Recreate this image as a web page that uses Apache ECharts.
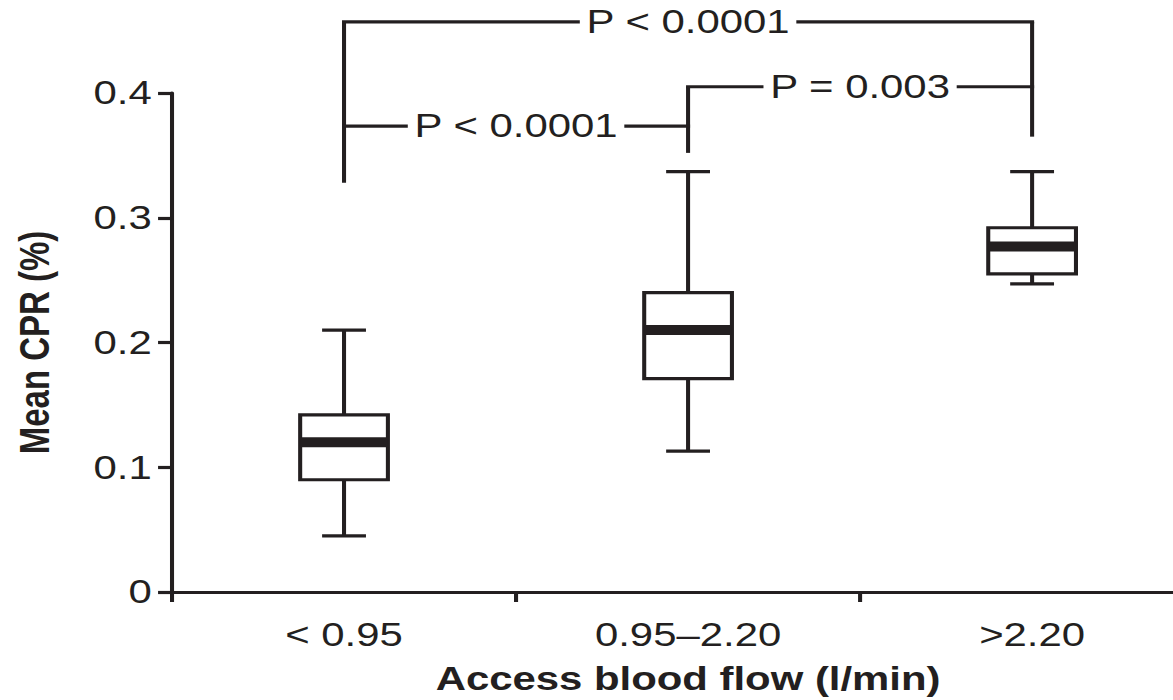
<!DOCTYPE html>
<html>
<head>
<meta charset="utf-8">
<script src="https://cdn.jsdelivr.net/npm/echarts@6/dist/echarts.min.js"></script>
<style>
  html, body { margin: 0; padding: 0; background: #fff; overflow: hidden; }
  #wrap { width: 1173px; height: 700px; overflow: hidden; position: relative; }
  /* the reference figure is horizontally stretched; reproduce that stretch */
  #chart { width: 952px; height: 700px; transform: scaleX(1.2695); transform-origin: 0 0; }
</style>
</head>
<body>
<div id="wrap"><div id="chart"></div></div>
<script>
// ---- data ----
const categories   = ['< 0.95', '0.95–2.20', '>2.20'];
const whiskerLow   = [0.045, 0.113, 0.247];
const quartile1    = [0.090, 0.171, 0.255];
const medians      = [0.120, 0.210, 0.277];
const quartile3    = [0.142, 0.240, 0.292];
const whiskerHigh  = [0.210, 0.337, 0.337];

// significance brackets (horizontal bars)
const bracketFrom   = [0, 0, 1];
const bracketTo     = [2, 1, 2];
const bracketLevel  = [0.457, 0.3735, 0.405];
const bracketLabels = ['P < 0.0001', 'P < 0.0001', 'P = 0.003'];
// bracket legs (vertical drops)
const legCategory = [0, 1, 2];
const legTop      = [0.457, 0.405, 0.457];
const legBottom   = [0.328, 0.352, 0.365];

const xTitle = 'Access blood flow (l/min)';
const yTitle = 'Mean CPR (%)';

// ---- style ----
const INK = '#231f20';
const LW = 3.2;
const FONT = 'Liberation Sans, Arial, sans-serif';

const chart = echarts.init(document.getElementById('chart'), null, { renderer: 'svg' });

const boxData = categories.map((c, i) => [i, whiskerLow[i], quartile1[i], medians[i], quartile3[i], whiskerHigh[i]]);
const bracketData = bracketFrom.map((f, i) => [f, bracketTo[i], bracketLevel[i], i]);
const legData = legCategory.map((c, i) => [c, legTop[i], legBottom[i]]);

function renderBox(params, api) {
  const c = api.value(0);
  const lo = api.coord([c, api.value(1)]);
  const b1 = api.coord([c, api.value(2)]);
  const md = api.coord([c, api.value(3)]);
  const b3 = api.coord([c, api.value(4)]);
  const hi = api.coord([c, api.value(5)]);
  const cw = api.size([1, 0])[0];
  const bw = cw * 0.255;
  const capw = bw * 0.5;
  const x = lo[0];
  const ls = { stroke: INK, lineWidth: LW, fill: null };
  return {
    type: 'group',
    children: [
      { type: 'line', shape: { x1: x, y1: hi[1], x2: x, y2: b3[1] }, style: ls },
      { type: 'line', shape: { x1: x, y1: b1[1], x2: x, y2: lo[1] }, style: ls },
      { type: 'line', shape: { x1: x - capw / 2, y1: hi[1], x2: x + capw / 2, y2: hi[1] }, style: ls },
      { type: 'line', shape: { x1: x - capw / 2, y1: lo[1], x2: x + capw / 2, y2: lo[1] }, style: ls },
      { type: 'rect', shape: { x: x - bw / 2, y: b3[1], width: bw, height: b1[1] - b3[1] },
        style: { stroke: INK, lineWidth: LW, fill: '#fff' } },
      { type: 'rect', shape: { x: x - bw / 2, y: md[1] - 5, width: bw, height: 10 },
        style: { fill: INK, stroke: null } }
    ]
  };
}

function renderBracket(params, api) {
  const a = api.coord([api.value(0), api.value(2)]);
  const b = api.coord([api.value(1), api.value(2)]);
  const label = bracketLabels[api.value(3)];
  return {
    type: 'group',
    children: [
      { type: 'line', shape: { x1: a[0] - LW / 2, y1: a[1], x2: b[0] + LW / 2, y2: b[1] },
        style: { stroke: INK, lineWidth: LW } },
      { type: 'text', x: (a[0] + b[0]) / 2, y: a[1],
        style: { text: label, align: 'center', verticalAlign: 'middle',
                 fill: INK, font: 'normal 33px ' + FONT,
                 backgroundColor: '#fff', padding: [0, 5, 0, 5] } }
    ]
  };
}

function renderLeg(params, api) {
  const t = api.coord([api.value(0), api.value(1)]);
  const b = api.coord([api.value(0), api.value(2)]);
  return { type: 'line', shape: { x1: t[0], y1: t[1], x2: b[0], y2: b[1] },
           style: { stroke: INK, lineWidth: LW } };
}

chart.setOption({
  animation: false,
  backgroundColor: '#fff',
  grid: { left: 135.5, top: 93, width: 813, height: 499, containLabel: false, outerBoundsMode: 'none' },
  xAxis: {
    type: 'category',
    data: categories,
    boundaryGap: true,
    name: xTitle,
    nameLocation: 'middle',
    nameGap: 70,
    nameTextStyle: { color: INK, fontSize: 33, fontWeight: 'bold', fontFamily: FONT },
    axisLine: { show: true, lineStyle: { color: INK, width: LW } },
    axisTick: { show: true, length: 10, inside: false, lineStyle: { color: INK, width: LW } },
    axisLabel: { color: INK, fontSize: 33, fontFamily: FONT, margin: 26 },
    splitLine: { show: false }
  },
  yAxis: {
    type: 'value',
    min: 0, max: 0.4, interval: 0.1,
    name: yTitle,
    nameLocation: 'middle',
    nameGap: 92,
    nameTextStyle: { color: INK, fontSize: 33, fontWeight: 'bold', fontFamily: FONT },
    axisLine: { show: true, lineStyle: { color: INK, width: LW } },
    axisTick: { show: true, length: 11, inside: false, lineStyle: { color: INK, width: LW } },
    axisLabel: { color: INK, fontSize: 33, fontFamily: FONT, margin: 16 },
    splitLine: { show: false }
  },
  series: [
    { type: 'custom', name: 'legs', data: legData, renderItem: renderLeg,
      encode: { x: 0, y: [1, 2] }, clip: false, silent: true, z: 2 },
    { type: 'custom', name: 'brackets', data: bracketData, renderItem: renderBracket,
      encode: { x: [0, 1], y: 2 }, clip: false, silent: true, z: 3 },
    { type: 'custom', name: 'CPR', data: boxData, renderItem: renderBox,
      encode: { x: 0, y: [1, 2, 3, 4, 5] }, clip: false, z: 4 }
  ]
});
</script>
</body>
</html>
